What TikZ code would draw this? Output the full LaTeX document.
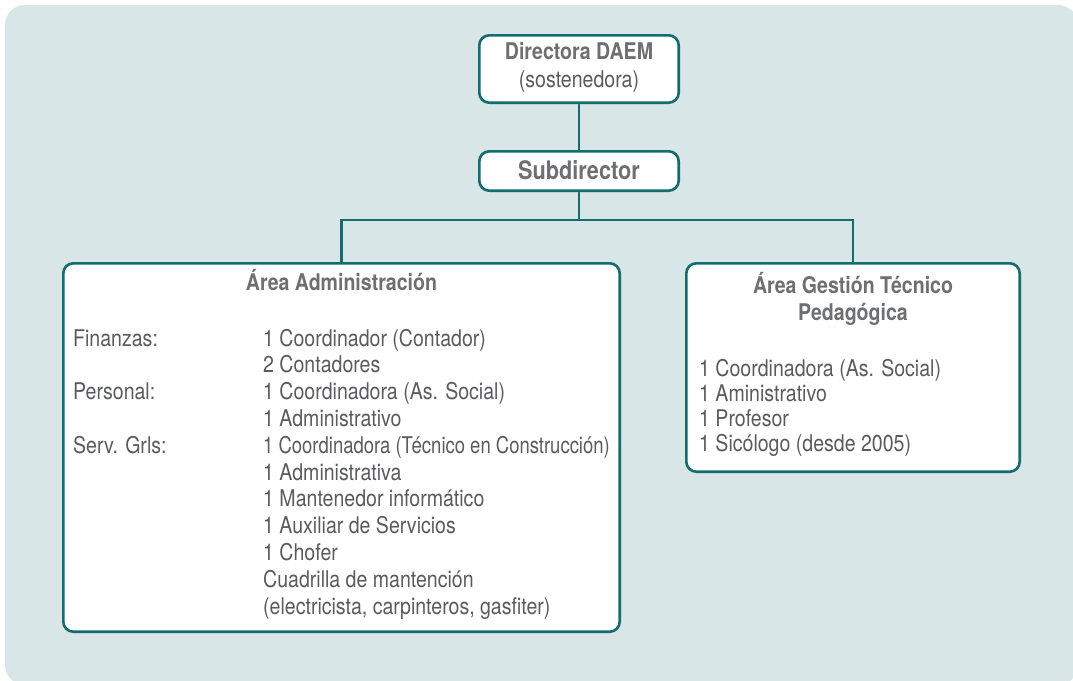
\documentclass[tikz,border=0pt]{standalone}
\usepackage{graphicx}
\usepackage{fontspec}
\setmainfont{TeX Gyre Heros}[FakeStretch=0.85]
\definecolor{bgc}{HTML}{D8E6E7}
\definecolor{tealc}{HTML}{146C6E}
\definecolor{txtc}{HTML}{5A5B5D}
\definecolor{ttlc}{HTML}{6E6F71}
\begin{document}
\begin{tikzpicture}[x=1pt,y=-1pt,
  orgbox/.style={draw=tealc,line width=2.6pt,fill=white,rounded corners=10pt,inner sep=0pt},
  conn/.style={draw=tealc,line width=2.6pt},
  reg/.style={inner sep=0pt,text=txtc,font=\fontsize{23}{27}\selectfont},
  ttl/.style={inner sep=0pt,text=ttlc,font=\fontsize{23}{27}\selectfont\bfseries}]
\useasboundingbox (0,0) rectangle (1073,680);
\fill[bgc,rounded corners=20pt] (5,5) rectangle (1078,685);
% boxes
\node[orgbox,minimum width=199.4pt,minimum height=67.4pt] (dir) at (579,69) {};
\node[orgbox,minimum width=199.4pt,minimum height=39.4pt] (sub) at (579,171) {};
\node[orgbox,minimum width=556.4pt,minimum height=368.4pt] (adm) at (341.5,447.5) {};
\node[orgbox,minimum width=333.4pt,minimum height=208.4pt] (ges) at (853,367.5) {};
% connectors
\coordinate (j) at (579,220);
\draw[conn] (dir.south) -- (sub.north);
\draw[conn] (sub.south) -- (j);
\draw[conn] (adm.north) |- (j) -| (ges.north);
% texts top
\node[ttl,anchor=base] (t1) at (579,59.5) {Directora DAEM};
\node[reg,anchor=base] (t2) at (579,87) {(sostenedora)};
\node[ttl,anchor=base,font=\fontsize{25.5}{29}\selectfont\bfseries] (t3) at (579,179) {Subdirector};
% left box
\node[ttl,anchor=base] (ta) at (341.5,290) {Área Administración};
\node[reg,anchor=base west] (l1) at (73,346) {Finanzas:};
\node[reg,anchor=base west] (l2) at (73,{346+2*26.8}) {Personal:};
\node[reg,anchor=base west] (l3) at (73,{346+4*26.8}) {Serv. Grls:};
\foreach \t [count=\i from 0] in {{1 Coordinador (Contador)},{2 Contadores},{1 Coordinadora (As. Social)},{1 Administrativo},{\scalebox{0.945}[1]{1 Coordinadora (Técnico en Construcción)}},{1 Administrativa},{1 Mantenedor informático},{1 Auxiliar de Servicios},{1 Chofer},{Cuadrilla de mantención},{(electricista, carpinteros, gasfiter)}}
  \node[reg,anchor=base west] (v\i) at (263,{346+\i*26.8}) {\t};
% right box
\node[ttl,anchor=base] (tg1) at (853,293) {Área Gestión Técnico};
\node[ttl,anchor=base] (tg2) at (853,320) {Pedagógica};
\foreach \t [count=\i from 0] in {{1 Coordinadora (As. Social)},{1 Aministrativo},{1 Profesor},{1 Sicólogo (desde 2005)}}
  \node[reg,anchor=base west] (g\i) at (699,{376+\i*25.3}) {\t};
\end{tikzpicture}
\end{document}
